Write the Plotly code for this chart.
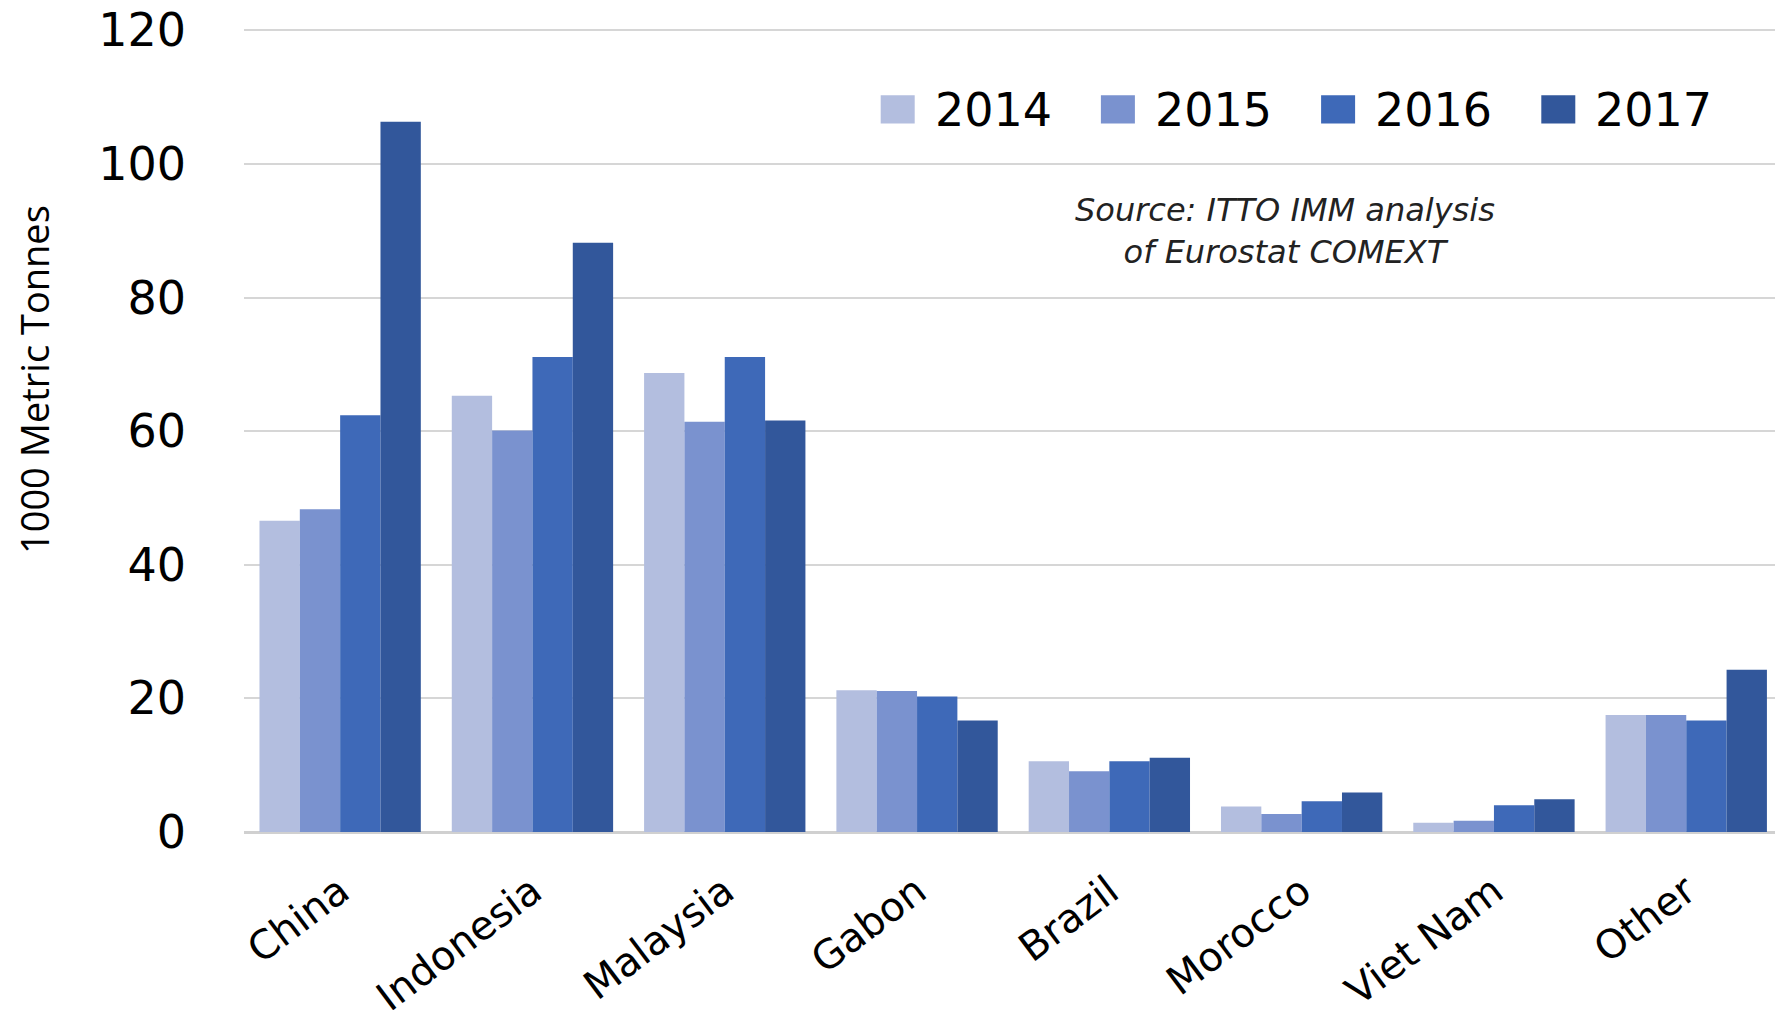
import plotly.graph_objects as go

categories = ["China", "Indonesia", "Malaysia", "Gabon", "Brazil", "Morocco", "Viet Nam", "Other"]
years = ["2014", "2015", "2016", "2017"]
v2014 = [46.6, 65.3, 68.7, 21.2, 10.6, 3.8, 1.4, 17.5]
v2015 = [48.3, 60.1, 61.4, 21.1, 9.1, 2.7, 1.7, 17.5]
v2016 = [62.4, 71.1, 71.1, 20.3, 10.6, 4.6, 4.0, 16.7]
v2017 = [106.3, 88.2, 61.6, 16.7, 11.1, 5.9, 4.9, 24.3]
series = [v2014, v2015, v2016, v2017]
colors = ["#B3BEDF", "#7A92CF", "#3E69B8", "#32579B"]
y_ticks = [0, 20, 40, 60, 80, 100, 120]

W, H = 1775, 1010
PPU = 6.686           # pixels per y unit
Y0 = 832.3            # pixel row of y = 0
YMAX = 120.5
L, R = 244, 0
B = H - Y0
T = Y0 - YMAX * PPU
pw, ph = W - L - R, H - T - B
PITCH = 192.3

def px(x):
    return (x - L) / pw

def py(y):
    return (H - B - y) / ph

fig = go.Figure()
for name, vals, col in zip(years, series, colors):
    fig.add_trace(go.Bar(x=categories, y=vals, name=name, marker_color=col,
                         marker_line_width=0, showlegend=False))

FONT = "DejaVu Sans"
shapes = []
annotations = []
x0 = 880.7
for i, (name, col) in enumerate(zip(years, colors)):
    sx = x0 + i * 220.2
    shapes.append(dict(type="rect", xref="paper", yref="paper",
                       x0=px(sx), x1=px(sx + 34), y0=py(123.3), y1=py(95),
                       fillcolor=col, line=dict(width=0)))
    annotations.append(dict(text=name, xref="paper", yref="paper",
                            x=px(sx + 52), y=py(110), xanchor="left", yanchor="middle",
                            showarrow=False, font=dict(family=FONT, size=46, color="#000000")))

annotations.append(dict(text="<i>Source: ITTO IMM analysis<br>of Eurostat COMEXT</i>",
                        xref="paper", yref="paper", x=px(1285), y=py(231),
                        xanchor="center", yanchor="middle", showarrow=False,
                        font=dict(family=FONT, size=32, color="#222222")))
annotations.append(dict(text="1000 Metric Tonnes", xref="paper", yref="paper",
                        x=px(34), y=py(380), xanchor="center", yanchor="middle",
                        textangle=-90, showarrow=False,
                        font=dict(family="Open Sans", size=38, color="#000000")))

fig.update_layout(
    width=W, height=H,
    margin=dict(l=L, r=R, t=T, b=B, pad=0),
    paper_bgcolor="white", plot_bgcolor="white",
    barmode="group", bargap=0.161, bargroupgap=0,
    shapes=shapes, annotations=annotations,
    font=dict(family=FONT, color="#000000"),
)
fig.update_xaxes(range=[-0.5, -0.5 + pw / PITCH], tickangle=-37,
                 tickfont=dict(family=FONT, size=40), showgrid=False,
                 showline=False, ticks="", ticklabelstandoff=27, automargin=False)
fig.update_yaxes(range=[0, YMAX], tickvals=y_ticks, ticktext=[str(v) for v in y_ticks],
                 tickfont=dict(family=FONT, size=46), showgrid=True,
                 gridcolor="#D6D6D6", gridwidth=2, zeroline=True, zerolinecolor="#D0D0D0",
                 zerolinewidth=3, showline=False, ticks="", ticklabelstandoff=57,
                 automargin=False)

fig.write_html("out.html", config={"displayModeBar": False},
               post_script="document.body.style.margin='0';document.body.style.overflow='hidden';")
